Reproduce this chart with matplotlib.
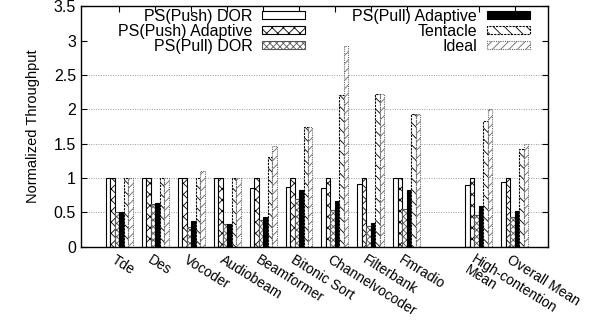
import numpy as np
import matplotlib
matplotlib.use("Agg")
import matplotlib.pyplot as plt
import matplotlib.transforms as mtransforms

plt.rcParams["font.family"] = ["Liberation Sans", "DejaVu Sans"]
plt.rcParams["hatch.linewidth"] = 0.6

benchmarks = ["Tde", "Des", "Vocoder", "Audiobeam", "Beamformer", "Bitonic Sort",
              "Channelvocoder", "Filterbank", "Fmradio", "", "High-contention\nMean",
              "Overall Mean"]

series_names = ["PS(Push) DOR", "PS(Push) Adaptive", "PS(Pull) DOR",
                "PS(Pull) Adaptive", "Tentacle", "Ideal"]

# one list per series, nan for the empty slot between Fmradio and the means
push_dor = [1.0, 1.0, 1.0, 1.0, 0.85, 0.875, 0.86, 0.91, 1.0, np.nan, 0.895, 0.94]
push_adaptive = [1.0, 1.0, 1.0, 1.0, 1.0, 1.0, 1.0, 1.0, 1.0, np.nan, 1.0, 1.0]
pull_dor = [0.5, 0.62, 0.29, 0.33, 0.39, 0.7, 0.53, 0.3, 0.55, np.nan, 0.46, 0.44]
pull_adaptive = [0.51, 0.64, 0.37, 0.33, 0.44, 0.83, 0.66, 0.35, 0.83, np.nan, 0.6, 0.52]
tentacle = [1.0, 1.0, 1.0, 1.0, 1.31, 1.75, 2.21, 2.22, 1.93, np.nan, 1.83, 1.42]
ideal = [1.0, 1.0, 1.11, 1.0, 1.47, 1.75, 2.92, 2.22, 1.93, np.nan, 2.0, 1.49]

all_series = [push_dor, push_adaptive, pull_dor, pull_adaptive, tentacle, ideal]

styles = [
    dict(facecolor="white", edgecolor="black", hatch=None, linestyle="-"),
    dict(facecolor="white", edgecolor="black", hatch="xxx", linestyle="-"),
    dict(facecolor="white", edgecolor="#555555", hatch="xxxxx", linestyle="-"),
    dict(facecolor="black", edgecolor="black", hatch=None, linestyle="-"),
    dict(facecolor="white", edgecolor="black", hatch="\\\\\\", linestyle=(0, (2, 1))),
    dict(facecolor="white", edgecolor="#666666", hatch="////", linestyle=(0, (1, 1))),
]

fig, ax = plt.subplots(figsize=(6.03, 3.24), dpi=100)
fig.subplots_adjust(left=0.134, right=0.909, top=0.981, bottom=0.238)

x = np.arange(len(benchmarks))
w = 1.0 / 8
bars = []
for k, (vals, name, st) in enumerate(zip(all_series, series_names, styles)):
    bars.append(ax.bar(x + (k - 2.5) * w, vals, w, label=name, linewidth=0.8, **st))

ax.set_xlim(-1.07, 11.93)
ax.set_ylim(0, 3.5)
ax.set_yticks(np.arange(0, 3.6, 0.5))
ax.set_yticklabels(["0", "0.5", "1", "1.5", "2", "2.5", "3", "3.5"])
ax.yaxis.grid(True, linestyle=(0, (1, 1.5)), color="#999999", linewidth=0.7)
gl = ax.yaxis.get_gridlines()
gl[6].set_visible(False)
gl[7].set_visible(False)
ax.set_axisbelow(True)

tick_pos = [i for i in x if benchmarks[i]]
ax.set_xticks(tick_pos)
ax.set_xticklabels([benchmarks[i] for i in tick_pos], rotation=-32,
                   ha="left", va="top", rotation_mode="anchor", fontsize=10,
                   linespacing=0.85)
ax.tick_params(direction="in", top=True, right=True, length=4, labelsize=11.5)
ax.tick_params(axis="x", pad=4, labelsize=10)
# nudge the slanted labels a little left, like gnuplot places them
shift = mtransforms.ScaledTranslation(-2 / 72, 0, fig.dpi_scale_trans)
for lbl in ax.get_xticklabels():
    lbl.set_transform(lbl.get_transform() + shift)
for s in ax.spines.values():
    s.set_linewidth(1.0)

ax.set_ylabel("Normalized Throughput", fontsize=10.5, labelpad=10)

legend_kw = dict(markerfirst=False, frameon=False, fontsize=11.5,
                 handlelength=2.7, handleheight=0.45, labelspacing=0.0,
                 borderpad=0.0, handletextpad=0.6, borderaxespad=0.0)
leg1 = ax.legend(bars[:3], series_names[:3], loc="upper right",
                 bbox_to_anchor=(0.48, 0.99), **legend_kw)
ax.add_artist(leg1)
ax.legend(bars[3:], series_names[3:], loc="upper right",
          bbox_to_anchor=(0.961, 0.99), **legend_kw)

fig.savefig("out.png", dpi=100)
